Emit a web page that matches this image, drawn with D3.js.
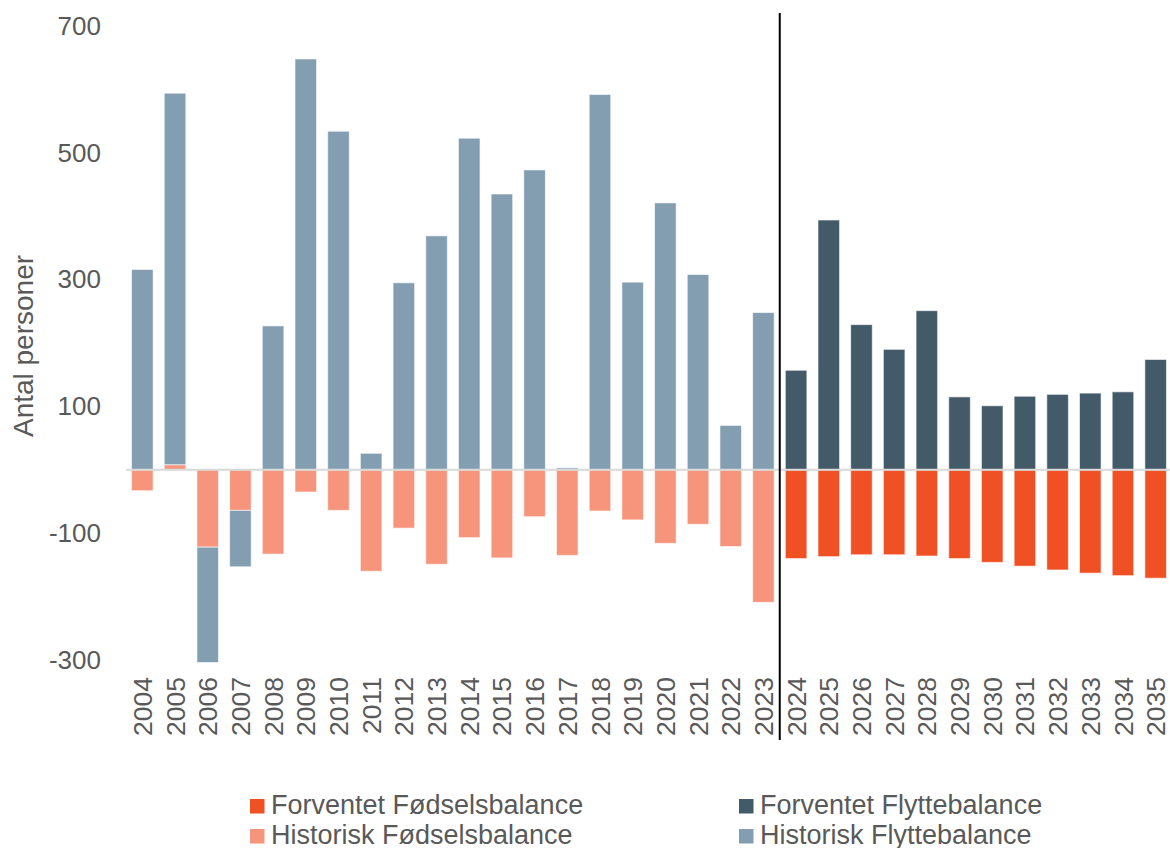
<!DOCTYPE html>
<html>
<head>
<meta charset="utf-8">
<script src="https://cdn.jsdelivr.net/npm/d3@7"></script>
<style>
  html, body { margin: 0; padding: 0; background: #fff; }
  svg { display: block; font-family: "Liberation Sans", Arial, sans-serif; }
</style>
</head>
<body>
<svg id="chart" width="1170" height="848"></svg>
<script>
// ---- data ----
const years = d3.range(2004, 2036).map(String);

const histFodsel = [-33, 8, -122, -64, -133, -35, -64, -160, -92, -149, -107, -139, -74, -135, -65, -79, -116, -86, -121, -209];
const histFlytte = [316, 586, -182, -89, 227, 648, 534, 26, 295, 369, 523, 435, 473, 3, 592, 296, 421, 308, 70, 248];
const fcFodsel = [-140, -137, -134, -134, -136, -140, -146, -152, -158, -163, -167, -171];
const fcFlytte = [157, 394, 229, 190, 251, 115, 101, 116, 119, 121, 123, 174];

const yTicks = [-300, -100, 100, 300, 500, 700];

const seriesNames = {
  fcF: "Forventet Fødselsbalance",
  histF: "Historisk Fødselsbalance",
  fcM: "Forventet Flyttebalance",
  histM: "Historisk Flyttebalance"
};
const colors = { histF: "#F7957C", fcF: "#F05124", histM: "#839EB1", fcM: "#435A69" };

// ---- table for stacking ----
const table = years.map((yr, i) => ({
  year: yr,
  histF: i < 20 ? histFodsel[i] : 0,
  fcF: i >= 20 ? fcFodsel[i - 20] : 0,
  histM: i < 20 ? histFlytte[i] : 0,
  fcM: i >= 20 ? fcFlytte[i - 20] : 0
}));
const keys = ["histF", "fcF", "histM", "fcM"];
const stacked = d3.stack().keys(keys).offset(d3.stackOffsetDiverging)(table);

// ---- scales ----
const svg = d3.select("#chart");
const x = d3.scaleBand().domain(years).range([126, 1172]).paddingInner(0.34).paddingOuter(0.17);
const y = d3.scaleLinear().domain([-300, 700]).range([660, 26]);

const font = 26;
const textColor = "#595959";
const ff = "Liberation Sans, Arial, sans-serif";

// bars
svg.append("g").selectAll("g").data(stacked).join("g")
  .attr("fill", d => colors[d.key])
  .selectAll("rect")
  .data(d => d.filter(s => s[1] !== s[0]))
  .join("rect")
  .attr("x", d => x(d.data.year))
  .attr("width", x.bandwidth())
  .attr("y", d => y(d[1]))
  .attr("height", d => y(d[0]) - y(d[1]))
  .attr("stroke", "#ffffff")
  .attr("stroke-opacity", 0.6)
  .attr("stroke-width", 1);

// zero line
svg.append("line")
  .attr("x1", 126).attr("x2", 1170)
  .attr("y1", y(0)).attr("y2", y(0))
  .attr("stroke", "#D9D9D9").attr("stroke-width", 2);

// y axis
const yAxis = svg.append("g").attr("transform", "translate(101,0)")
  .call(d3.axisLeft(y).tickValues(yTicks).tickFormat(d => String(d)).tickSize(0).tickPadding(0));
yAxis.select(".domain").remove();
yAxis.selectAll("text").attr("font-size", font).attr("fill", textColor)
  .attr("font-family", ff);

// x axis labels
const xAxis = svg.append("g").attr("transform", "translate(0,677)")
  .call(d3.axisBottom(x).tickSize(0).tickPadding(0));
xAxis.select(".domain").remove();
xAxis.selectAll("text")
  .attr("font-size", font + 0.5).attr("fill", textColor)
  .attr("font-family", ff)
  .attr("text-anchor", "end")
  .attr("transform", "rotate(-90)")
  .attr("x", 0).attr("y", 0).attr("dy", "0.36em");

// divider line between history and forecast
const divX = (x("2023") + x.bandwidth() + x("2024")) / 2;
svg.append("line")
  .attr("x1", divX).attr("x2", divX)
  .attr("y1", 13).attr("y2", 740)
  .attr("stroke", "#000").attr("stroke-width", 2);

// y axis title
svg.append("text")
  .attr("transform", "translate(33,346) rotate(-90)")
  .attr("text-anchor", "middle")
  .attr("font-size", 28).attr("fill", textColor)
  .text("Antal personer");

// legend
const legendItems = [
  { key: "fcF", x: 250, y: 799 },
  { key: "fcM", x: 739, y: 799 },
  { key: "histF", x: 250, y: 829 },
  { key: "histM", x: 739, y: 829 }
];
const lg = svg.append("g").selectAll("g").data(legendItems).join("g")
  .attr("transform", d => `translate(${d.x},${d.y})`);
lg.append("rect").attr("width", 14.5).attr("height", 14.5).attr("fill", d => colors[d.key]);
lg.append("text").attr("x", 21).attr("y", 14.5)
  .attr("font-size", 27).attr("fill", textColor)
  .text(d => seriesNames[d.key]);
</script>
</body>
</html>
